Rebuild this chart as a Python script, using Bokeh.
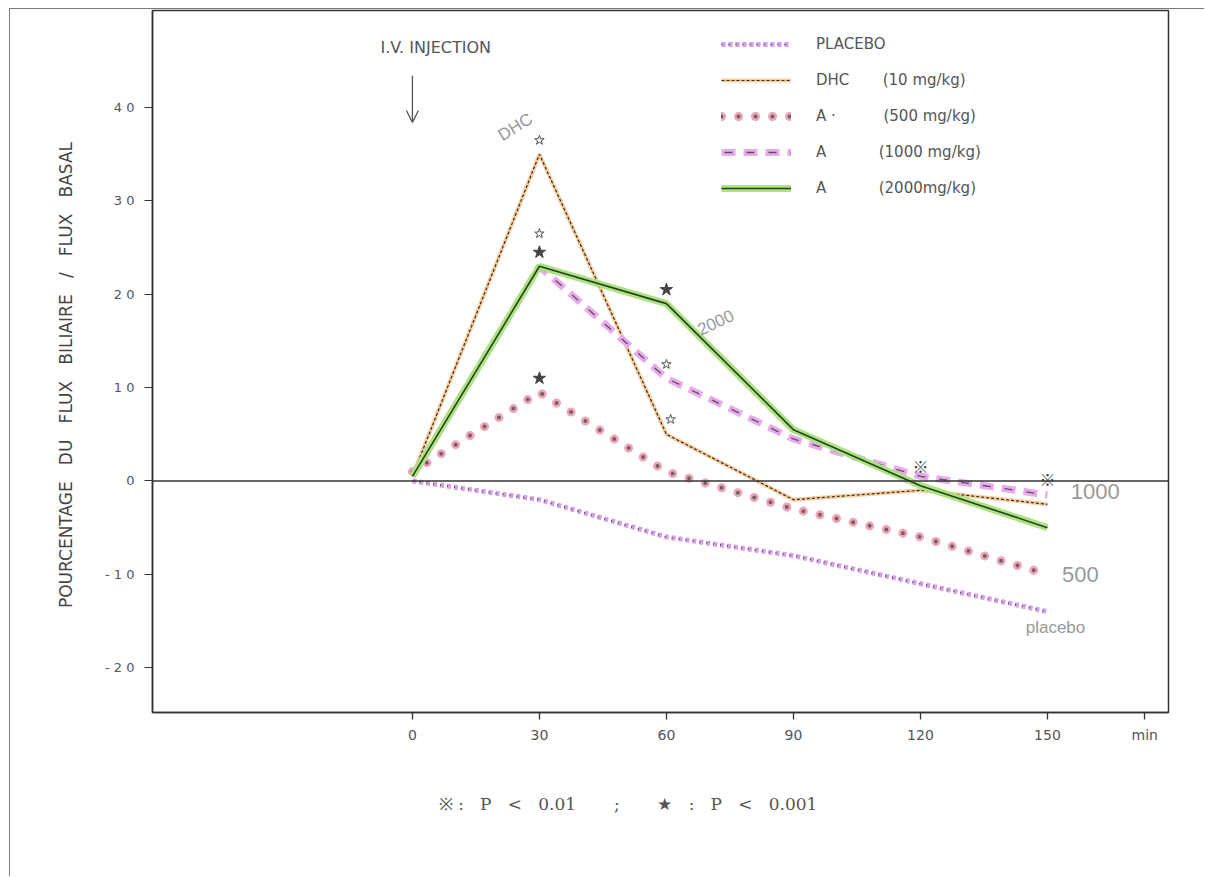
from bokeh.plotting import figure
from bokeh.models import (Range1d, FixedTicker, Span, Label, Arrow, OpenHead,
                          Legend, LegendItem, ColumnDataSource)
from bokeh.core.properties import value
from bokeh.embed import file_html
from bokeh.resources import INLINE
import math

NB = "\u00a0"

# ---------------- data ----------------
minutes = [0, 30, 60, 90, 120, 150]
placebo = [0, -2, -6, -8, -11, -14]
dhc = [0.5, 35, 5, -2, -1, -2.5]
a500 = [1, 9.5, 1, -3, -6, -10]
a1000 = [0.5, 23, 11, 4.5, 0.5, -1.5]
a2000 = [0.5, 23, 19, 5.5, -0.5, -5]

y_ticks = [-20, -10, 0, 10, 20, 30, 40]
x_ticks = [0, 30, 60, 90, 120, 150]
x_unit_pos = 173
x_unit = "min"
y_min, y_max = -24.8, 50.4

# significance marks
star_x = [30, 30, 60]
star_y = [24.5, 11, 20.5]
star_small_x = [30, 30, 60, 61]
star_small_y = [36.5, 26.5, 12.5, 6.6]
ast_x = [120, 150]
ast_y = [1.6, 0.2]

labels_legend = ["PLACEBO", "DHC       (10 mg/kg)", "A ·          (500 mg/kg)",
                 "A           (1000 mg/kg)", "A           (2000mg/kg)"]

y_title = (NB * 3).join(["POURCENTAGE", "DU", "FLUX", "BILIAIRE", "/", "FLUX", "BASAL"]) + NB * 5
footnote = ("※" + NB + ":" + NB * 3 + "P" + NB * 3 + "<" + NB * 3 + "0.01" + NB * 7 + ";" + NB * 7 +
            "★" + NB * 3 + ":" + NB * 3 + "P" + NB * 3 + "<" + NB * 3 + "0.001" + NB * 12)

# ---------------- figure ----------------
p = figure(width=1195, height=868, output_backend="svg", toolbar_location=None,
           x_range=Range1d(-61.4, 178.6), y_range=Range1d(y_min, y_max),
           min_border_left=142, min_border_right=37, min_border_top=1,
           min_border_bottom=165)
p.styles = {"margin-left": "9px", "margin-top": "8px",
            "border-left": "1px solid #7a7a7a", "border-top": "1px solid #7a7a7a"}
p.grid.visible = False
p.outline_line_color = "#333333"
p.outline_line_width = 1.5
p.background_fill_color = "white"
p.border_fill_color = "white"

# axes
p.xaxis.ticker = FixedTicker(ticks=x_ticks + [x_unit_pos])
p.xaxis.major_label_overrides = {x_unit_pos: x_unit}
p.yaxis.ticker = FixedTicker(ticks=y_ticks)
for ax in (p.xaxis, p.yaxis):
    ax.axis_line_color = "#333333"
    ax.axis_line_width = 1.5
    ax.major_tick_line_color = "#333333"
    ax.minor_tick_line_color = None
    ax.major_label_text_font = "DejaVu Sans"
    ax.major_label_text_font_size = "14px"
    ax.major_label_text_color = "#555555"
p.xaxis.major_tick_line_width = 1.3
p.xaxis.major_tick_in = 0
p.xaxis.major_tick_out = 7
p.xaxis.major_label_standoff = 7
p.xaxis.axis_label = footnote
p.xaxis.axis_label_text_font = "DejaVu Serif"
p.xaxis.axis_label_text_font_style = "normal"
p.xaxis.axis_label_text_font_size = "17px"
p.xaxis.axis_label_text_color = "#555555"
p.xaxis.axis_label_standoff = 48
p.yaxis.major_tick_in = 0
p.yaxis.major_tick_out = 8
p.yaxis.major_label_standoff = 10
p.yaxis.major_label_text_font_size = "13px"
p.yaxis.major_label_overrides = {t: ("- " + " ".join(str(abs(t))) if t < 0 else " ".join(str(t)))
                                 for t in y_ticks}
p.yaxis.axis_label = y_title
p.yaxis.axis_label_text_font = "DejaVu Sans"
p.yaxis.axis_label_text_font_style = "normal"
p.yaxis.axis_label_text_font_size = "17px"
p.yaxis.axis_label_text_color = "#444444"
p.yaxis.axis_label_standoff = 26

src = ColumnDataSource(dict(x=minutes, placebo=placebo, dhc=dhc, a500=a500,
                            a1000=a1000, a2000=a2000))

# placebo
r_pl1 = p.line("x", "placebo", source=src, line_color="#cf8de0", line_width=5,
               line_alpha=0.85, line_dash="4 3")
r_pl2 = p.line("x", "placebo", source=src, line_color="#4a3560", line_width=1.6,
               line_dash="1 6")
# DHC
r_d1 = p.line("x", "dhc", source=src, line_color="#f6c692", line_width=4, line_alpha=0.85)
r_d2 = p.line("x", "dhc", source=src, line_color="#3a2a1a", line_width=1.2, line_dash="3 2")
# A 500
r_5a = p.line("x", "a500", source=src, line_color="#f3a2b6", line_width=9,
              line_dash="0 17", line_cap="round")
r_5b = p.line("x", "a500", source=src, line_color="#666666", line_width=4,
              line_dash="0 17", line_cap="round")
# A 1000
r_1a = p.line("x", "a1000", source=src, line_color="#eaa8ef", line_width=7,
              line_dash="14 8")
r_1b = p.line("x", "a1000", source=src, line_color="#555555", line_width=1.3,
              line_dash="8 14", line_dash_offset=-3)
# A 2000
r_2a = p.line("x", "a2000", source=src, line_color="#a9e57e", line_width=7)
r_2b = p.line("x", "a2000", source=src, line_color="#2f3b2a", line_width=1.6)

# zero line
p.add_layout(Span(location=0, dimension="width", line_color="#333333", line_width=1.3))

legend = Legend(items=[
    LegendItem(label=labels_legend[0], renderers=[r_pl1, r_pl2]),
    LegendItem(label=labels_legend[1], renderers=[r_d1, r_d2]),
    LegendItem(label=labels_legend[2], renderers=[r_5a, r_5b]),
    LegendItem(label=labels_legend[3], renderers=[r_1a, r_1b]),
    LegendItem(label=labels_legend[4], renderers=[r_2a, r_2b]),
], location=(569, 514))
legend.background_fill_alpha = 0
legend.border_line_color = None
legend.label_text_font = "DejaVu Sans"
legend.label_text_font_size = "15px"
legend.label_text_color = "#555555"
legend.glyph_width = 70
legend.glyph_height = 20
legend.label_height = 20
legend.spacing = 16
legend.label_standoff = 25
p.add_layout(legend)

# significance marks
p.scatter(star_x, star_y, marker="star", size=13, fill_color="#444444",
          line_color="#444444")
p.scatter(star_small_x, star_small_y, marker="star", size=10, fill_color="white",
          line_color="#555555", line_width=1)
p.text(ast_x, ast_y, text=["※", "※"], text_font=value("Noto Sans CJK SC"),
       text_font_size="16px", text_color="#444444", text_align="center",
       text_baseline="middle")

# handwritten annotations
hand = dict(text_font="Liberation Sans", text_color="#999999", text_font_style="normal")
p.add_layout(Label(x=24.3, y=37.9, text="DHC", text_font_size="17px",
                   angle=math.radians(32), text_align="center", text_baseline="middle", **hand))
p.add_layout(Label(x=71.6, y=17.0, text="2000", text_font_size="17px",
                   angle=math.radians(25), text_align="center", text_baseline="middle", **hand))
p.add_layout(Label(x=161.3, y=-1.1, text="1000", text_font_size="22px",
                   text_align="center", text_baseline="middle", **hand))
p.add_layout(Label(x=157.8, y=-10, text="500", text_font_size="22px",
                   text_align="center", text_baseline="middle", **hand))
p.add_layout(Label(x=151.9, y=-15.7, text="placebo", text_font_size="17px",
                   text_align="center", text_baseline="middle", **hand))

# injection marker
p.add_layout(Label(x=5.5, y=46.4, text="I.V. INJECTION", text_font="DejaVu Sans",
                   text_font_size="16px", text_color="#555555", text_align="center",
                   text_baseline="middle"))
p.add_layout(Arrow(x_start=0, y_start=43.4, x_end=0, y_end=38.4,
                   line_color="#555555", line_width=1.3,
                   end=OpenHead(size=12, line_color="#555555", line_width=1.3)))

open("out.html", "w").write(file_html(p, INLINE))
